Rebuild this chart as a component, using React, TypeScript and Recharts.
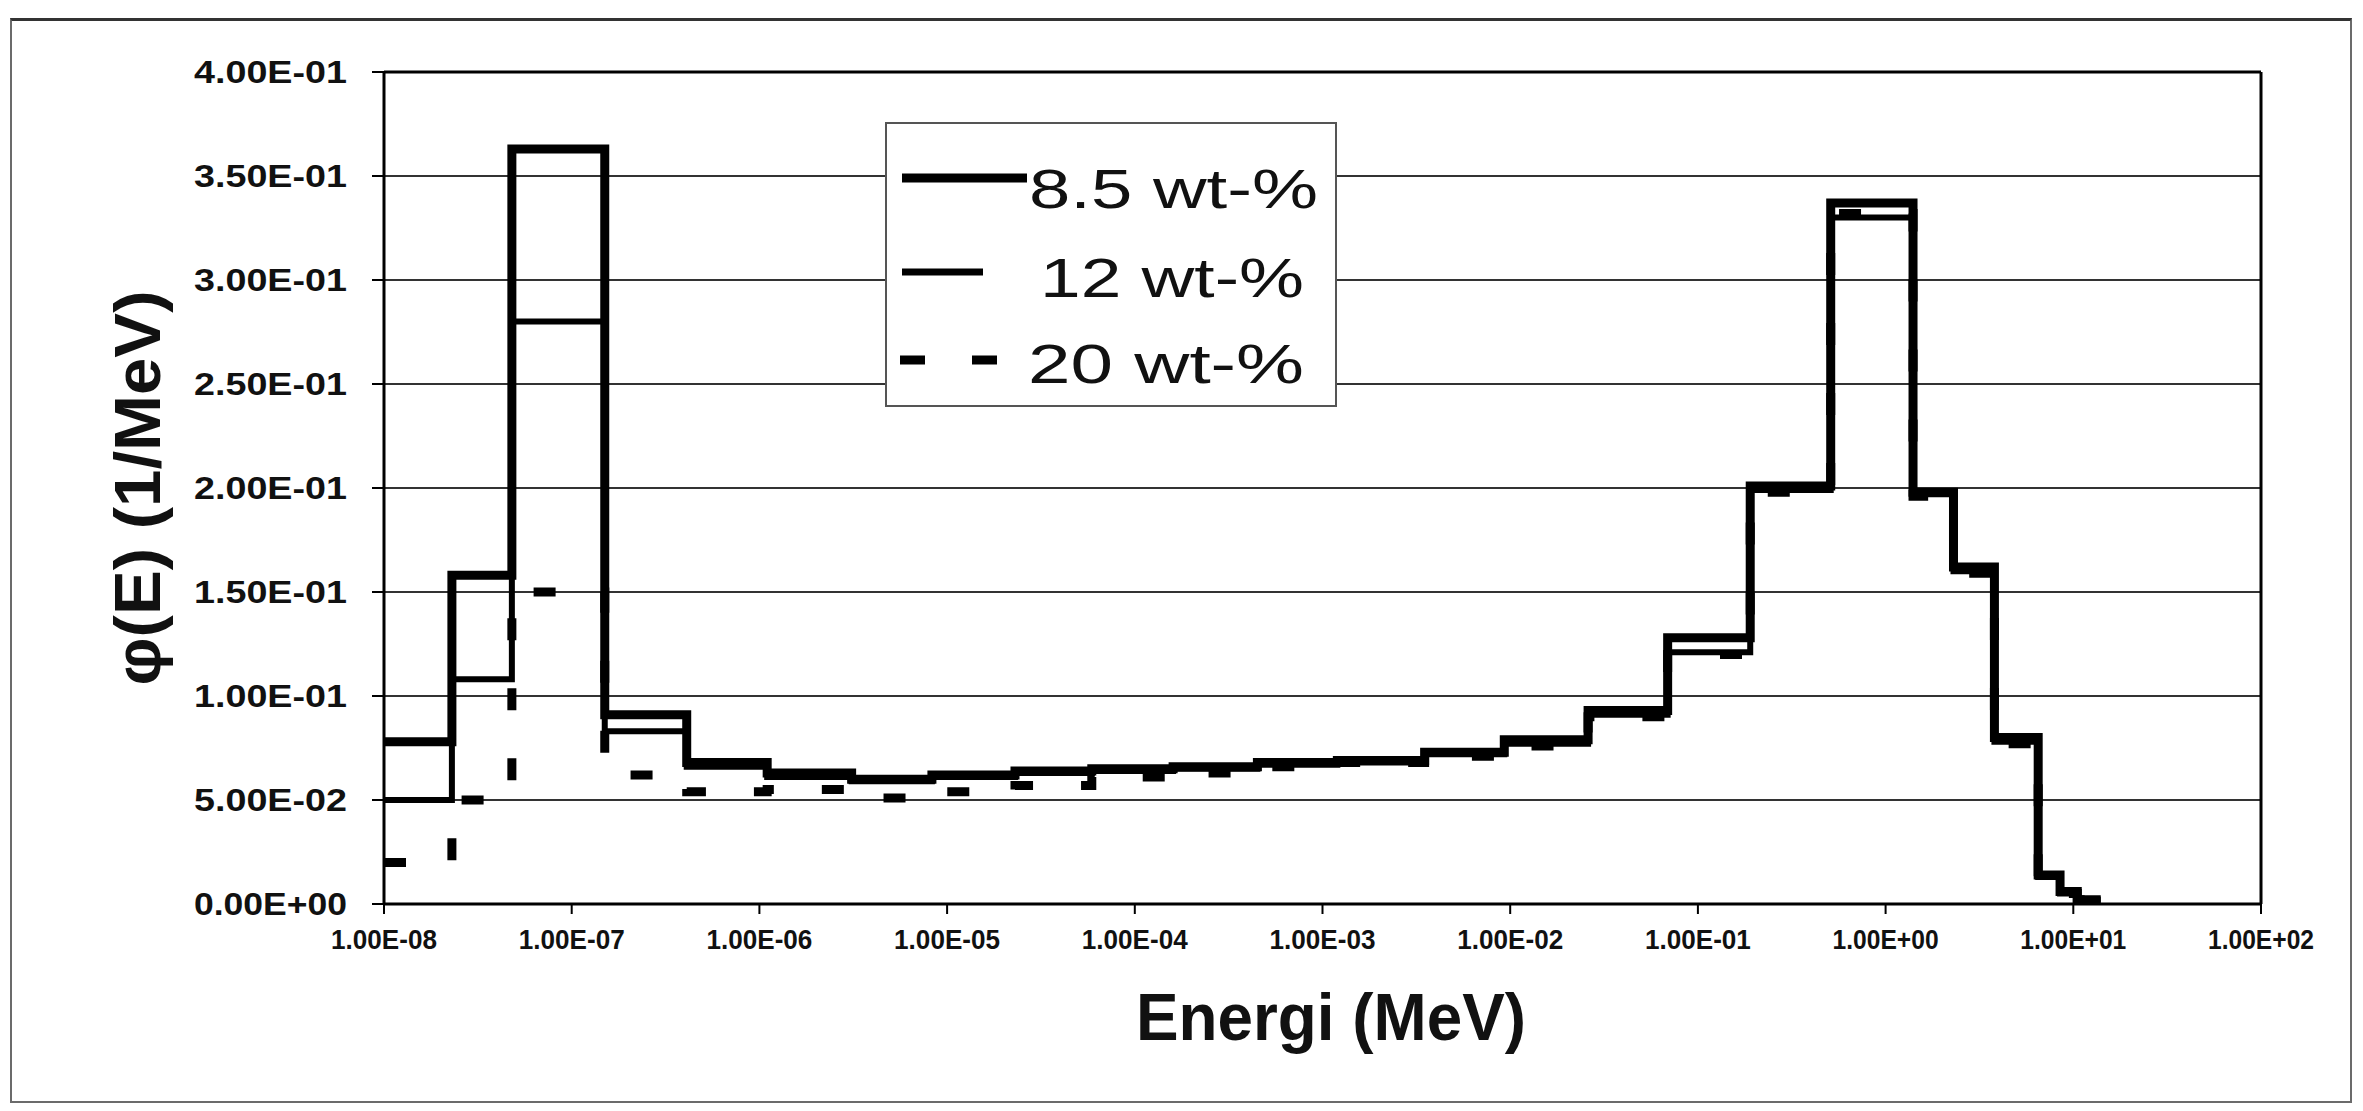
import React from "react";
import {
  LineChart,
  Line,
  XAxis,
  YAxis,
  CartesianGrid,
  Legend,
  ReferenceLine,
} from "recharts";

// Neutron spectrum φ(E), step histogram per energy group
// Bin edges (MeV)
const edges = [
  1e-8, 2.3e-8, 4.8e-8, 1.5e-7, 4.1e-7, 1.1e-6, 3.1e-6, 8.3e-6, 2.3e-5,
  5.9e-5, 1.6e-4, 4.5e-4, 1.2e-3, 3.5e-3, 9.3e-3, 2.6e-2, 6.9e-2, 0.19, 0.51,
  1.4, 2.3, 3.8, 6.5, 8.5, 10.5, 14,
];

// group flux, one value per bin
const flux85 = [
  0.078, 0.158, 0.363, 0.091, 0.068, 0.063, 0.06, 0.062, 0.064, 0.065, 0.066,
  0.068, 0.069, 0.073, 0.079, 0.093, 0.128, 0.201, 0.337, 0.198, 0.162, 0.08,
  0.014, 0.006, 0.002,
];
const flux12 = [
  0.05, 0.108, 0.28, 0.083, 0.066, 0.061, 0.059, 0.061, 0.063, 0.064, 0.065,
  0.067, 0.068, 0.072, 0.077, 0.091, 0.121, 0.199, 0.33, 0.197, 0.16, 0.078,
  0.013, 0.005, 0.002,
];
const flux20 = [
  0.02, 0.05, 0.15, 0.062, 0.054, 0.055, 0.051, 0.054, 0.057, 0.061, 0.063,
  0.066, 0.068, 0.071, 0.076, 0.09, 0.12, 0.198, 0.332, 0.196, 0.159, 0.077,
  0.012, 0.005, 0.002,
];

const seriesNames = ["8.5 wt-%", "12 wt-%", "20 wt-%"];
const xTicks = [1e-8, 1e-7, 1e-6, 1e-5, 1e-4, 1e-3, 1e-2, 1e-1, 1, 10, 100];
const yTicks = [0, 0.05, 0.1, 0.15, 0.2, 0.25, 0.3, 0.35, 0.4];

// stepAfter: each row = lower edge of a bin, last row closes the final bin
const data = edges.map((e, i) => {
  const j = Math.min(i, flux85.length - 1);
  return { e, a: flux85[j], b: flux12[j], c: flux20[j] };
});

const FONT = "'Liberation Sans', Arial, sans-serif";

// Excel-style scientific label: 1.00E-08
function sci(v: number) {
  if (v === 0) return "0.00E+00";
  const exp = Math.floor(Math.log10(v) + 1e-9);
  const mant = v / Math.pow(10, exp);
  const sign = exp < 0 ? "-" : "+";
  return `${mant.toFixed(2)}E${sign}${String(Math.abs(exp)).padStart(2, "0")}`;
}

function XTick({ x, y, payload }: any) {
  return (
    <text
      x={x}
      y={y + 33}
      textAnchor="middle"
      fontFamily={FONT}
      fontWeight="bold"
      fontSize={27}
      textLength={106}
      lengthAdjust="spacingAndGlyphs"
      fill="#111"
    >
      {sci(payload.value)}
    </text>
  );
}

function YTick({ x, y, payload }: any) {
  return (
    <text
      x={x}
      y={y + 11}
      textAnchor="end"
      fontFamily={FONT}
      fontWeight="bold"
      fontSize={32}
      textLength={153}
      lengthAdjust="spacingAndGlyphs"
      fill="#111"
    >
      {sci(payload.value)}
    </text>
  );
}

// legend box drawn by hand, like the Excel one
function LegendBox() {
  const rows = [
    { lineY: 56, x1: 17, x2: 142, w: 9, dash: undefined, tx: 144, ty: 86, tw: 289 },
    { lineY: 150, x1: 17, x2: 98, w: 7, dash: undefined, tx: 155, ty: 175, tw: 264 },
    { lineY: 238, x1: 15, x2: 115, w: 9, dash: "25 47", tx: 143, ty: 261, tw: 276 },
  ];
  return (
    <svg width={452} height={285} style={{ display: "block" }}>
      <rect x={1} y={1} width={450} height={283} fill="#fff" stroke="#555" strokeWidth={2} />
      {rows.map((r, i) => (
        <g key={i}>
          <line
            x1={r.x1}
            x2={r.x2}
            y1={r.lineY}
            y2={r.lineY}
            stroke="#000"
            strokeWidth={r.w}
            strokeDasharray={r.dash}
          />
          <text
            x={r.tx}
            y={r.ty}
            fontFamily={FONT}
            fontSize={56}
            textLength={r.tw}
            lengthAdjust="spacingAndGlyphs"
            fill="#111"
          >
            {seriesNames[i]}
          </text>
        </g>
      ))}
    </svg>
  );
}

export default function App() {
  return (
    <div
      style={{
        position: "absolute",
        left: 0,
        top: 0,
        width: 2363,
        height: 1111,
        background: "#fff",
      }}
    >
      <div
        style={{
          position: "absolute",
          left: 10,
          top: 18,
          width: 2338,
          height: 1080,
          border: "2px solid #6b6b6b",
          borderTop: "3px solid #333",
        }}
      />
      <div style={{ position: "absolute", left: 0, top: 0 }}>
        <LineChart
          width={2363}
          height={1111}
          data={data}
          margin={{ top: 72, right: 102, bottom: 147, left: 184 }}
        >
          <CartesianGrid
            vertical={false}
            stroke="#333"
            strokeWidth={2}
            horizontalValues={yTicks}
          />
          <XAxis
            dataKey="e"
            type="number"
            scale="log"
            domain={[1e-8, 100]}
            ticks={xTicks}
            interval={0}
            allowDataOverflow
            height={60}
            tickSize={10}
            tickMargin={2}
            tick={<XTick />}
            axisLine={{ stroke: "#000", strokeWidth: 3 }}
            tickLine={{ stroke: "#000", strokeWidth: 2 }}
          />
          <YAxis
            type="number"
            domain={[0, 0.4]}
            ticks={yTicks}
            interval={0}
            width={200}
            tickSize={12}
            tickMargin={25}
            tick={<YTick />}
            axisLine={{ stroke: "#000", strokeWidth: 3 }}
            tickLine={{ stroke: "#000", strokeWidth: 2 }}
          />
          <ReferenceLine y={0.4} stroke="#000" strokeWidth={3} />
          <ReferenceLine x={100} stroke="#000" strokeWidth={3} />
          <Legend
            layout="vertical"
            align="center"
            verticalAlign="middle"
            wrapperStyle={{ left: 885, top: 122, width: 452, height: 285 }}
            content={() => <LegendBox />}
          />
          <Line
            type="stepAfter"
            dataKey="c"
            name={seriesNames[2]}
            stroke="#000"
            strokeWidth={9}
            strokeDasharray="22 48"
            dot={false}
            isAnimationActive={false}
          />
          <Line
            type="stepAfter"
            dataKey="b"
            name={seriesNames[1]}
            stroke="#000"
            strokeWidth={6}
            dot={false}
            isAnimationActive={false}
          />
          <Line
            type="stepAfter"
            dataKey="a"
            name={seriesNames[0]}
            stroke="#000"
            strokeWidth={9}
            strokeLinejoin="miter"
            dot={false}
            isAnimationActive={false}
          />
        </LineChart>
      </div>
      <svg
        width={2363}
        height={1111}
        style={{ position: "absolute", left: 0, top: 0, pointerEvents: "none" }}
      >
        <text
          x={1331}
          y={1040}
          textAnchor="middle"
          fontFamily={FONT}
          fontWeight="bold"
          fontSize={66}
          textLength={390}
          lengthAdjust="spacingAndGlyphs"
          fill="#111"
        >
          Energi (MeV)
        </text>
        <text
          transform="translate(160,488) rotate(-90)"
          textAnchor="middle"
          fontFamily={FONT}
          fontWeight="bold"
          fontSize={64}
          textLength={395}
          lengthAdjust="spacingAndGlyphs"
          fill="#111"
        >
          φ(E) (1/MeV)
        </text>
      </svg>
    </div>
  );
}
